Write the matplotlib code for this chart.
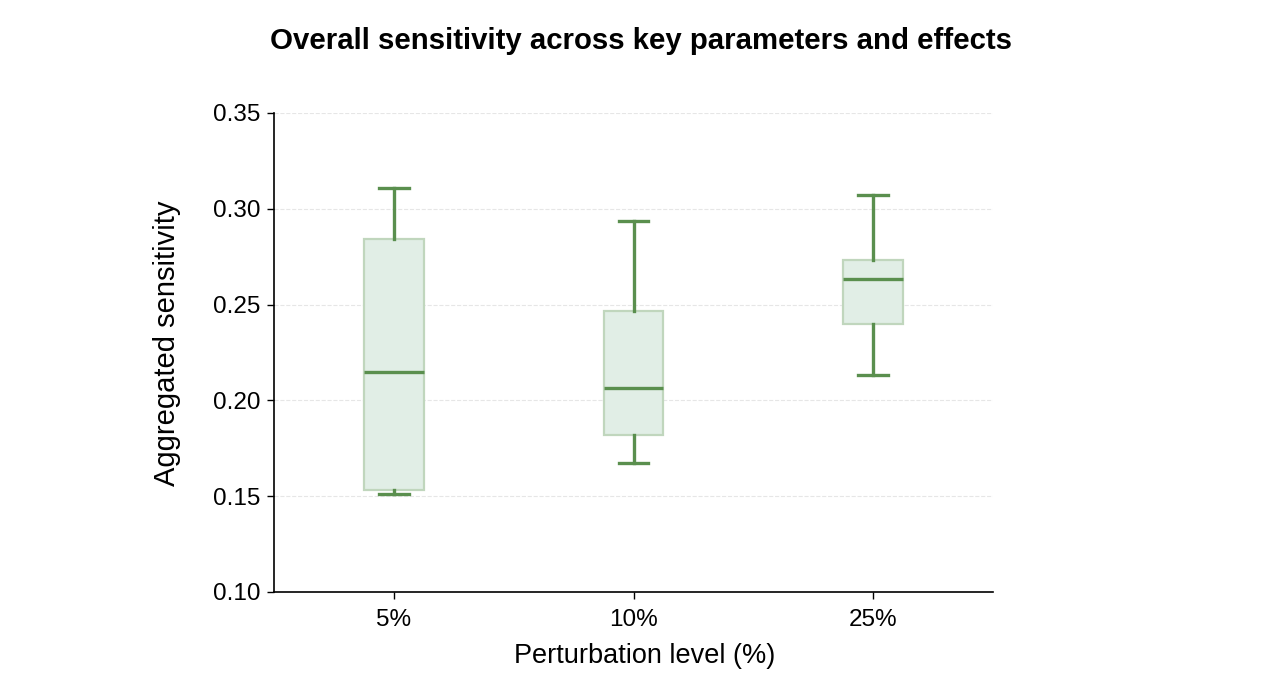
import matplotlib.pyplot as plt

plt.rcParams['font.family'] = ['Liberation Sans', 'DejaVu Sans']

# Perturbation levels and box statistics
levels = ["5%", "10%", "25%"]
whislo = [0.1511, 0.1673, 0.2133]
q1 = [0.1532, 0.1819, 0.2399]
med = [0.2148, 0.2065, 0.2634]
q3 = [0.2842, 0.2467, 0.2733]
whishi = [0.3109, 0.2936, 0.3072]

dark_green = "#5a8f4e"
box_face = "#e1eee6"
box_edge = "#c0d6bd"

stats = []
for i, lab in enumerate(levels):
    stats.append({"label": lab, "whislo": whislo[i], "q1": q1[i], "med": med[i],
                  "q3": q3[i], "whishi": whishi[i], "fliers": []})

fig = plt.figure(figsize=(12.66, 6.98), dpi=100)
ax = fig.add_axes([274 / 1266, 1 - 592 / 698, 719 / 1266, 479 / 698])

ax.bxp(stats, positions=range(len(levels)), widths=0.25, patch_artist=True,
       showfliers=False,
       boxprops=dict(facecolor=box_face, edgecolor=box_edge, linewidth=1.6),
       medianprops=dict(color=dark_green, linewidth=2.4),
       whiskerprops=dict(color=dark_green, linewidth=2.4),
       capprops=dict(color=dark_green, linewidth=2.4))

ax.set_xlim(-0.5, 2.5)
ax.set_ylim(0.10, 0.35)
ax.set_yticks([0.10, 0.15, 0.20, 0.25, 0.30, 0.35])
ax.set_yticklabels(["0.10", "0.15", "0.20", "0.25", "0.30", "0.35"])
ax.set_xticks(range(len(levels)))
ax.set_xticklabels(levels)
ax.tick_params(labelsize=17.5, length=5, width=1)
ax.tick_params(axis="y", pad=5)
ax.tick_params(axis="x", pad=7)

ax.yaxis.grid(True, color="#e6e6e6", linestyle="--", linewidth=0.8)
ax.set_axisbelow(True)
for s in ["top", "right"]:
    ax.spines[s].set_visible(False)
for s in ["left", "bottom"]:
    ax.spines[s].set_linewidth(1.2)

ax.set_xlabel("Perturbation level (%)", fontsize=19.5, labelpad=9)
ax.xaxis.label.set_x(0.516)
ax.set_ylabel("Aggregated sensitivity", fontsize=21, labelpad=23)
ax.yaxis.label.set_y(0.52)
ax.set_title("Overall sensitivity across key parameters and effects",
             fontsize=21.2, fontweight="bold", pad=46, x=0.51)

fig.savefig("out.png", dpi=100)
